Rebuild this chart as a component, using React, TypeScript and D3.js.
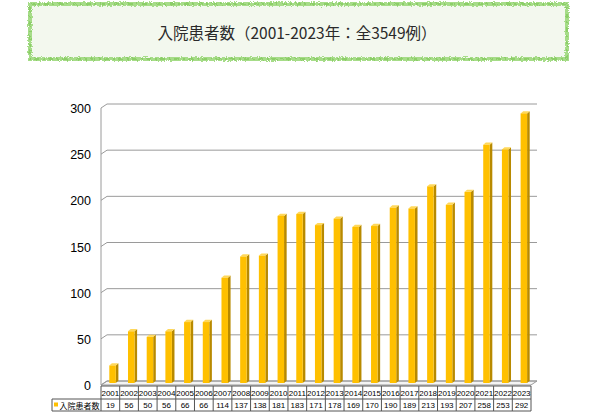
import React, { useEffect, useRef } from "react";
import * as d3 from "d3";

const years = [
  "2001", "2002", "2003", "2004", "2005", "2006", "2007", "2008", "2009", "2010", "2011", "2012",
  "2013", "2014", "2015", "2016", "2017", "2018", "2019", "2020", "2021", "2022", "2023",
];
const patients = [
  19, 56, 50, 56, 66, 66, 114, 137, 138, 181, 183, 171, 178, 169, 170, 190, 189, 213, 193, 207, 258, 253, 292,
];
const yTicks = [0, 50, 100, 150, 200, 250, 300];
const seriesName = "入院患者数";
const title = "入院患者数（2001-2023年：全3549例）";

const width = 600;
const height = 416;
const depthX = 6;
const depthY = -4;

const App: React.FC = () => {
  const svgRef = useRef<SVGSVGElement>(null);

  useEffect(() => {
    if (!svgRef.current) return;
    const svg = d3.select(svgRef.current);
    svg.selectAll("*").remove();

    const defs = svg.append("defs");
    const filter = defs.append("filter").attr("id", "rough").attr("x", "-5%").attr("y", "-20%").attr("width", "110%").attr("height", "140%");
    filter.append("feTurbulence").attr("type", "fractalNoise").attr("baseFrequency", 0.8).attr("numOctaves", 2).attr("result", "noise");
    filter.append("feDisplacementMap").attr("in", "SourceGraphic").attr("in2", "noise").attr("scale", 4);

    // title box
    svg.append("rect")
      .attr("x", 30).attr("y", 4).attr("width", 537).attr("height", 55)
      .attr("fill", "#f3f8ee");
    svg.append("rect")
      .attr("x", 30).attr("y", 4).attr("width", 537).attr("height", 55)
      .attr("fill", "none").attr("stroke", "#a6dc88").attr("stroke-width", 4)
      .attr("filter", "url(#rough)");
    svg.append("rect")
      .attr("x", 30).attr("y", 4).attr("width", 537).attr("height", 55)
      .attr("fill", "none").attr("stroke", "#84c95e").attr("stroke-width", 1.5)
      .attr("stroke-dasharray", "5 3 2 4")
      .attr("filter", "url(#rough)");
    svg.append("text")
      .attr("x", 297).attr("y", 32)
      .attr("text-anchor", "middle").attr("dominant-baseline", "central")
      .attr("font-family", "'Noto Sans CJK JP', sans-serif").attr("font-size", 15.5)
      .attr("fill", "#2a2a2a")
      .text(title);

    const xScale = d3.scaleBand<string>().domain(years).range([101, 531]);
    // front plane of the 3d box
    const yScale = d3.scaleLinear().domain([0, 300]).range([385, 108]);
    const bw = xScale.bandwidth();

    const grid = svg.append("g").attr("stroke", "#9a9a9a").attr("fill", "none");
    // floor
    grid.append("path")
      .attr("d", `M101,${yScale(0)} L531,${yScale(0)} L${531 + depthX},${yScale(0) + depthY} L${101 + depthX},${yScale(0) + depthY} Z`)
      .attr("fill", "#f4f4f4");
    // left wall edge
    grid.append("line")
      .attr("x1", 101).attr("x2", 101)
      .attr("y1", yScale(300)).attr("y2", yScale(0));
    yTicks.forEach((t) => {
      const yf = yScale(t);
      grid.append("path")
        .attr("d", `M101,${yf} L${101 + depthX},${yf + depthY} L${531 + depthX},${yf + depthY}`);
    });

    svg.append("g")
      .selectAll("text")
      .data(yTicks)
      .join("text")
      .attr("x", 91)
      .attr("y", (d) => yScale(d) + 1)
      .attr("text-anchor", "end").attr("dominant-baseline", "central")
      .attr("font-family", "Arial, 'Liberation Sans', sans-serif").attr("font-size", 12.5)
      .attr("fill", "#000")
      .text((d) => d);

    // bars
    const bars = svg.append("g");
    const bx = 8.3;
    const bWidth = 6.5;
    const dx = 2.6;
    const dy = -2.2;
    patients.forEach((v, i) => {
      const x0 = (xScale(years[i]) as number) + bx;
      const x1 = x0 + bWidth;
      const yb = yScale(0) - 2;
      const yt = yScale(v) - 2;
      bars.append("path")
        .attr("d", `M${x1},${yb} L${x1 + dx},${yb + dy} L${x1 + dx},${yt + dy} L${x1},${yt} Z`)
        .attr("fill", "#b88a00");
      bars.append("path")
        .attr("d", `M${x0},${yt} L${x0 + dx},${yt + dy} L${x1 + dx},${yt + dy} L${x1},${yt} Z`)
        .attr("fill", "#ffd85a");
      bars.append("rect")
        .attr("x", x0).attr("y", yt).attr("width", bWidth).attr("height", yb - yt)
        .attr("fill", "#ffc000");
    });

    // data table
    const table = svg.append("g");
    const rowTop = 386;
    const rowMid = 399;
    const rowBot = 411;
    const lineColor = "#555";
    table.append("line").attr("x1", 101).attr("x2", 531).attr("y1", rowTop).attr("y2", rowTop).attr("stroke", lineColor);
    table.append("line").attr("x1", 52).attr("x2", 531).attr("y1", rowMid).attr("y2", rowMid).attr("stroke", lineColor);
    table.append("line").attr("x1", 52).attr("x2", 531).attr("y1", rowBot).attr("y2", rowBot).attr("stroke", lineColor);
    table.append("line").attr("x1", 52).attr("x2", 52).attr("y1", rowMid).attr("y2", rowBot).attr("stroke", lineColor);
    [...years.map((y) => xScale(y) as number), 531].forEach((x) => {
      table.append("line").attr("x1", x).attr("x2", x).attr("y1", rowTop).attr("y2", rowBot).attr("stroke", lineColor);
    });
    table.selectAll("text.year")
      .data(years)
      .join("text")
      .attr("class", "year")
      .attr("x", (d) => (xScale(d) as number) + bw / 2)
      .attr("y", (rowTop + rowMid) / 2 + 0.5)
      .attr("text-anchor", "middle").attr("dominant-baseline", "central")
      .attr("font-family", "Arial, 'Liberation Sans', sans-serif").attr("font-size", 8)
      .text((d) => d);
    table.selectAll("text.val")
      .data(patients)
      .join("text")
      .attr("class", "val")
      .attr("x", (d, i) => (xScale(years[i]) as number) + bw / 2)
      .attr("y", (rowMid + rowBot) / 2 + 0.5)
      .attr("text-anchor", "middle").attr("dominant-baseline", "central")
      .attr("font-family", "Arial, 'Liberation Sans', sans-serif").attr("font-size", 8)
      .text((d) => d);
    table.append("rect")
      .attr("x", 54).attr("y", 402.5).attr("width", 4).attr("height", 4)
      .attr("fill", "#ffc000");
    table.append("text")
      .attr("x", 59.5).attr("y", (rowMid + rowBot) / 2 + 0.5)
      .attr("dominant-baseline", "central")
      .attr("font-family", "'Noto Sans CJK JP', sans-serif").attr("font-size", 8)
      .text(seriesName);
  }, []);

  return (
    <svg
      ref={svgRef}
      width={width}
      height={height}
      style={{ position: "absolute", left: 0, top: 0, background: "#fff" }}
    ></svg>
  );
};

export default App;
